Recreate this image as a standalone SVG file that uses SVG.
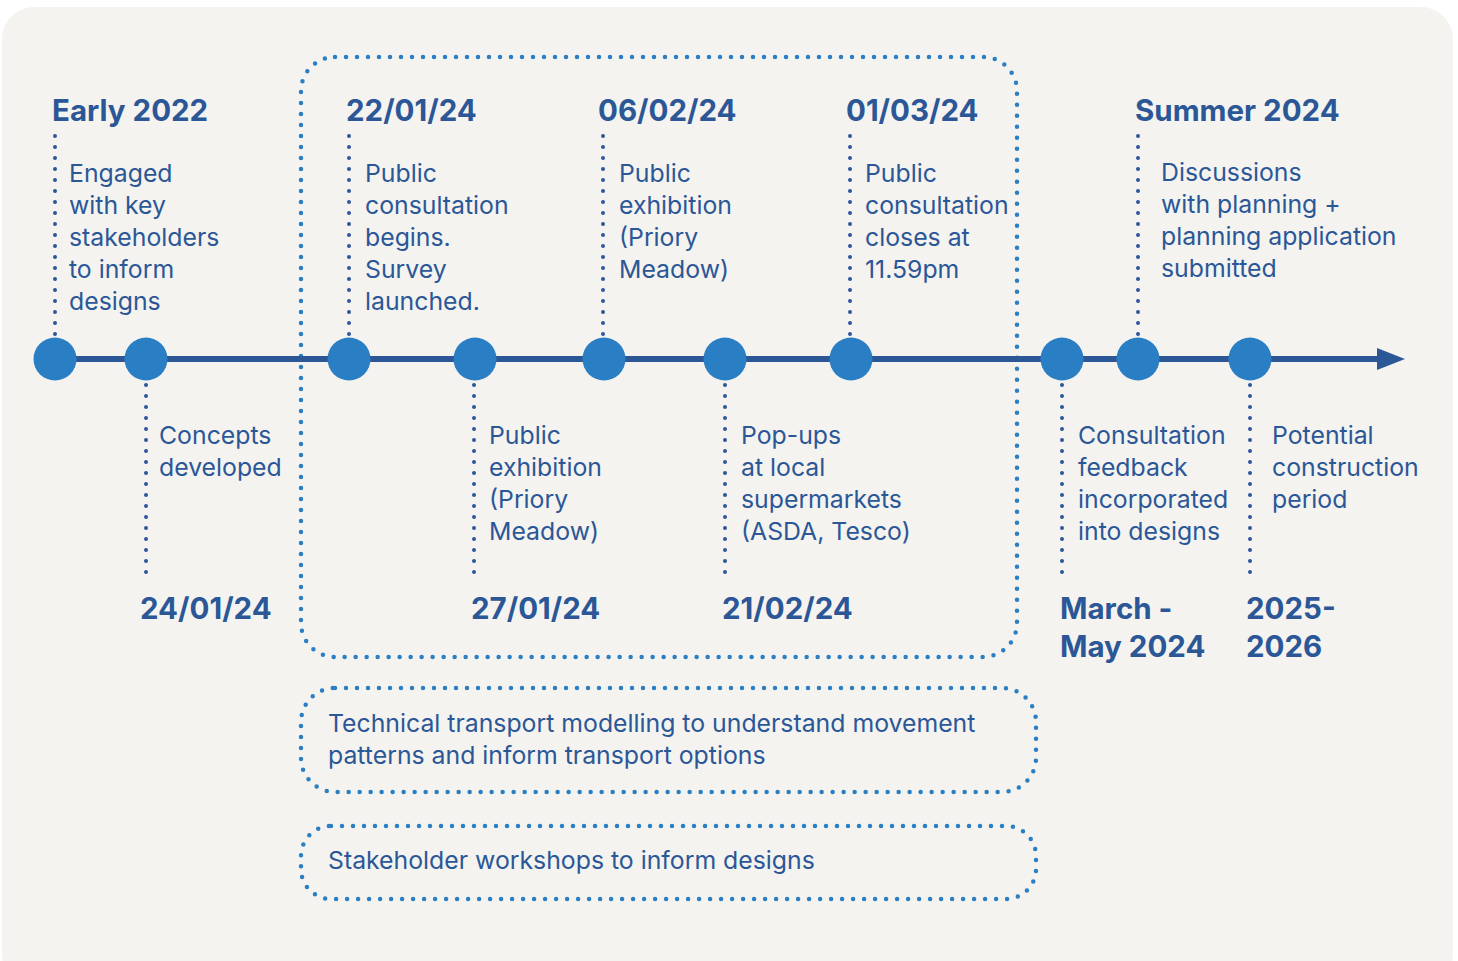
<svg xmlns="http://www.w3.org/2000/svg" width="1458" height="961" viewBox="0 0 1458 961">
<defs>
<style>
.bg{fill:#F4F3F0}
.date{font-family:Inter,Roboto,"Liberation Sans",sans-serif;font-weight:700;font-size:29.5px;fill:#2B5797}
.body{font-family:Inter,Roboto,"Liberation Sans",sans-serif;font-size:24.8px;fill:#2B5797}
.dot{fill:none;stroke:#2B5797;stroke-width:4;stroke-linecap:round;stroke-dasharray:0 11}
.box{fill:none;stroke:#2A7FC4;stroke-width:4.5;stroke-linecap:round;stroke-dasharray:0 11}
.node{fill:#2A7FC4}
</style>
<marker id="arr" viewBox="0 0 28 22" refX="0" refY="11" markerWidth="28" markerHeight="22" markerUnits="userSpaceOnUse" orient="auto">
<path d="M0 0 L28 11 L0 22 Z" fill="#2B5797"/>
</marker>
</defs>
<rect class="bg" x="2" y="7" width="1451" height="980" rx="32"/>
<g id="boxes">
<rect class="box" x="301" y="57" width="716" height="600" rx="34"/>
<rect class="box" x="301" y="688" width="735" height="104" rx="34"/>
<rect class="box" x="301" y="826" width="735" height="73" rx="30"/>
</g>
<g id="connectors">
<line x1="55" y1="359" x2="1377" y2="359" stroke="#2B5797" stroke-width="6" marker-end="url(#arr)"/>
<line class="dot" x1="55" y1="136" x2="55" y2="336"/>
<line class="dot" x1="146" y1="385" x2="146" y2="583"/>
<line class="dot" x1="349" y1="136" x2="349" y2="336"/>
<line class="dot" x1="474" y1="385" x2="474" y2="583"/>
<line class="dot" x1="603" y1="136" x2="603" y2="336"/>
<line class="dot" x1="725" y1="385" x2="725" y2="583"/>
<line class="dot" x1="850" y1="136" x2="850" y2="336"/>
<line class="dot" x1="1062" y1="385" x2="1062" y2="583"/>
<line class="dot" x1="1138" y1="136" x2="1138" y2="336"/>
<line class="dot" x1="1250" y1="385" x2="1250" y2="583"/>
</g>
<g id="n-early2022">
<circle class="node" cx="55" cy="359" r="21.5"/>
<text class="date" x="52" y="121">Early 2022</text>
<text class="body" x="69" y="182">Engaged</text>
<text class="body" x="69" y="214">with key</text>
<text class="body" x="69" y="246">stakeholders</text>
<text class="body" x="69" y="278">to inform</text>
<text class="body" x="69" y="310">designs</text>
</g>
<g id="n-240124">
<circle class="node" cx="146" cy="359" r="21.5"/>
<text class="body" x="159" y="444">Concepts</text>
<text class="body" x="159" y="476">developed</text>
<text class="date" x="140" y="619">24/01/24</text>
</g>
<g id="n-220124">
<circle class="node" cx="349" cy="359" r="21.5"/>
<text class="date" x="346" y="121">22/01/24</text>
<text class="body" x="365" y="182">Public</text>
<text class="body" x="365" y="214">consultation</text>
<text class="body" x="365" y="246">begins.</text>
<text class="body" x="365" y="278">Survey</text>
<text class="body" x="365" y="310">launched.</text>
</g>
<g id="n-270124">
<circle class="node" cx="475" cy="359" r="21.5"/>
<text class="body" x="489" y="444">Public</text>
<text class="body" x="489" y="476">exhibition</text>
<text class="body" x="489" y="508">(Priory</text>
<text class="body" x="489" y="540">Meadow)</text>
<text class="date" x="471" y="619">27/01/24</text>
</g>
<g id="n-060224">
<circle class="node" cx="604" cy="359" r="21.5"/>
<text class="date" x="598" y="121">06/02/24</text>
<text class="body" x="619" y="182">Public</text>
<text class="body" x="619" y="214">exhibition</text>
<text class="body" x="619" y="246">(Priory</text>
<text class="body" x="619" y="278">Meadow)</text>
</g>
<g id="n-210224">
<circle class="node" cx="725" cy="359" r="21.5"/>
<text class="body" x="741" y="444">Pop-ups</text>
<text class="body" x="741" y="476">at local</text>
<text class="body" x="741" y="508">supermarkets</text>
<text class="body" x="741" y="540">(ASDA, Tesco)</text>
<text class="date" x="722" y="619">21/02/24</text>
</g>
<g id="n-010324">
<circle class="node" cx="851" cy="359" r="21.5"/>
<text class="date" x="846" y="121">01/03/24</text>
<text class="body" x="865" y="182">Public</text>
<text class="body" x="865" y="214">consultation</text>
<text class="body" x="865" y="246">closes at</text>
<text class="body" x="865" y="278">11.59pm</text>
</g>
<g id="n-marmay">
<circle class="node" cx="1062" cy="359" r="21.5"/>
<text class="body" x="1078" y="444">Consultation</text>
<text class="body" x="1078" y="476">feedback</text>
<text class="body" x="1078" y="508">incorporated</text>
<text class="body" x="1078" y="540">into designs</text>
<text class="date" x="1060" y="619">March -</text>
<text class="date" x="1060" y="657">May 2024</text>
</g>
<g id="n-summer2024">
<circle class="node" cx="1138" cy="359" r="21.5"/>
<text class="date" x="1135" y="121">Summer 2024</text>
<text class="body" x="1161" y="181">Discussions</text>
<text class="body" x="1161" y="213">with planning +</text>
<text class="body" x="1161" y="245">planning application</text>
<text class="body" x="1161" y="277">submitted</text>
</g>
<g id="n-2025">
<circle class="node" cx="1250" cy="359" r="21.5"/>
<text class="body" x="1272" y="444">Potential</text>
<text class="body" x="1272" y="476">construction</text>
<text class="body" x="1272" y="508">period</text>
<text class="date" x="1246" y="619">2025-</text>
<text class="date" x="1246" y="657">2026</text>
</g>
<g id="n-transport">
<text class="body" x="328" y="732">Technical transport modelling to understand movement</text>
<text class="body" x="328" y="764">patterns and inform transport options</text>
</g>
<g id="n-workshops">
<text class="body" x="328" y="869">Stakeholder workshops to inform designs</text>
</g>
</svg>
